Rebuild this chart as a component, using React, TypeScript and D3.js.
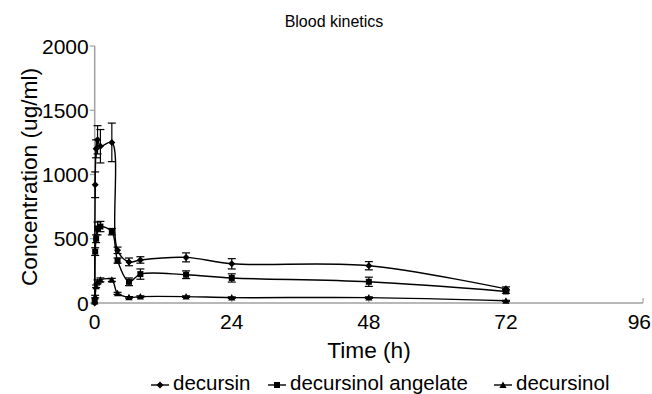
import React from "react";
import * as d3 from "d3";

const times = [0, 0.083, 0.25, 0.5, 1, 3, 4, 6, 8, 16, 24, 48, 72];
const decursin = [0, 920, 1200, 1270, 1220, 1250, 410, 320, 335, 355, 305, 290, 110];
const decursinErr = [0, 100, 70, 110, 130, 150, 25, 30, 25, 35, 40, 32, 15];
const angelate = [20, 400, 500, 580, 595, 555, 330, 165, 225, 220, 195, 165, 90];
const angelateErr = [0, 30, 30, 50, 40, 25, 20, 30, 40, 30, 32, 36, 15];
const decursinol = [10, 50, 130, 165, 180, 180, 75, 44, 50, 50, 42, 42, 17];
const decursinolErr = [0, 10, 10, 15, 15, 12, 8, 6, 6, 6, 6, 6, 4];

const xTicks = [0, 24, 48, 72, 96];
const yTicks = [0, 500, 1000, 1500, 2000];

const seriesNames = ["decursin", "decursinol angelate", "decursinol"];
const seriesMarkers = ["diamond", "square", "triangle"];

const FONT = "'Liberation Sans', Arial, sans-serif";

function Marker({ type, x, y }: { type: string; x: number; y: number }) {
  if (type === "diamond") {
    const s = 3.5;
    return <path d={`M${x},${y - s}L${x + s},${y}L${x},${y + s}L${x - s},${y}Z`} fill="#000" />;
  }
  if (type === "square") {
    const s = 3;
    return <rect x={x - s} y={y - s} width={2 * s} height={2 * s} fill="#000" />;
  }
  const s = 3.6;
  return <path d={`M${x},${y - s}L${x + s},${y + s * 0.8}L${x - s},${y + s * 0.8}Z`} fill="#000" />;
}

export default function App() {
  const x = d3.scaleLinear().domain([0, 96]).range([94.7, 643]);
  const y = d3.scaleLinear().domain([0, 2000]).range([303, 46]);
  const line = d3
    .line<[number, number]>()
    .x((d) => x(d[0]))
    .y((d) => y(d[1]))
    .curve(d3.curveCatmullRom.alpha(0.5));

  const series = [
    { vals: decursin, err: decursinErr },
    { vals: angelate, err: angelateErr },
    { vals: decursinol, err: decursinolErr },
  ];

  const legendX = [151, 268, 494];

  return (
    <svg
      width={652}
      height={394}
      style={{ position: "absolute", left: 0, top: 0, background: "#fff" }}
      fontFamily={FONT}
    >
      <rect width={652} height={394} fill="#fff" />
      <text x={334} y={26.5} fontSize={16} textAnchor="middle" fill="#000">
        Blood kinetics
      </text>

      {/* axes */}
      <line x1={x(0)} x2={x(0)} y1={y(0)} y2={y(2000)} stroke="#a0a0a0" strokeWidth={1.5} />
      <line x1={x(0)} x2={x(96)} y1={y(0)} y2={y(0)} stroke="#a0a0a0" strokeWidth={1.5} />
      {yTicks.map((t) => (
        <g key={"y" + t}>
          <line x1={x(0) - 5} x2={x(0)} y1={y(t)} y2={y(t)} stroke="#a0a0a0" strokeWidth={1.2} />
          <text x={x(0) - 6} y={y(t)} dy="0.36em" fontSize={21} textAnchor="end" fill="#000">
            {t}
          </text>
        </g>
      ))}
      {xTicks.map((t, i) => {
        const last = i === xTicks.length - 1;
        return (
          <g key={"x" + t}>
            <line x1={x(t)} x2={x(t)} y1={y(0)} y2={y(0) - 5} stroke="#a0a0a0" strokeWidth={1.2} />
            <text
              x={last ? 651 : x(t)}
              y={y(0) + 26}
              fontSize={21}
              textAnchor={last ? "end" : "middle"}
              fill="#000"
            >
              {t}
            </text>
          </g>
        );
      })}
      <text
        transform={`translate(37,177) rotate(-90)`}
        fontSize={22.7}
        textAnchor="middle"
        fill="#000"
      >
        Concentration (ug/ml)
      </text>
      <text x={369} y={358} fontSize={22.7} textAnchor="middle" fill="#000">
        Time (h)
      </text>

      {/* series */}
      {series.map((s, i) => {
        const pts = times.map((t, j) => [t, s.vals[j]] as [number, number]);
        return (
          <g key={"s" + i}>
            <path d={line(pts) || ""} fill="none" stroke="#000" strokeWidth={1.4} />
            {times.map((t, j) =>
              s.err[j] > 0 ? (
                <g key={"e" + j} stroke="#000" strokeWidth={1.2}>
                  <line x1={x(t)} x2={x(t)} y1={y(s.vals[j] - s.err[j])} y2={y(s.vals[j] + s.err[j])} />
                  <line x1={x(t) - 4} x2={x(t) + 4} y1={y(s.vals[j] - s.err[j])} y2={y(s.vals[j] - s.err[j])} />
                  <line x1={x(t) - 4} x2={x(t) + 4} y1={y(s.vals[j] + s.err[j])} y2={y(s.vals[j] + s.err[j])} />
                </g>
              ) : null
            )}
            {times.map((t, j) => (
              <Marker key={"m" + j} type={seriesMarkers[i]} x={x(t)} y={y(s.vals[j])} />
            ))}
          </g>
        );
      })}

      {/* legend */}
      {seriesNames.map((n, i) => (
        <g key={"l" + i}>
          <line x1={legendX[i]} x2={legendX[i] + 18} y1={385} y2={385} stroke="#000" strokeWidth={1.4} />
          <Marker type={seriesMarkers[i]} x={legendX[i] + 9} y={385} />
          <text x={legendX[i] + 22} y={390} fontSize={20.5} fill="#000">
            {n}
          </text>
        </g>
      ))}
    </svg>
  );
}
